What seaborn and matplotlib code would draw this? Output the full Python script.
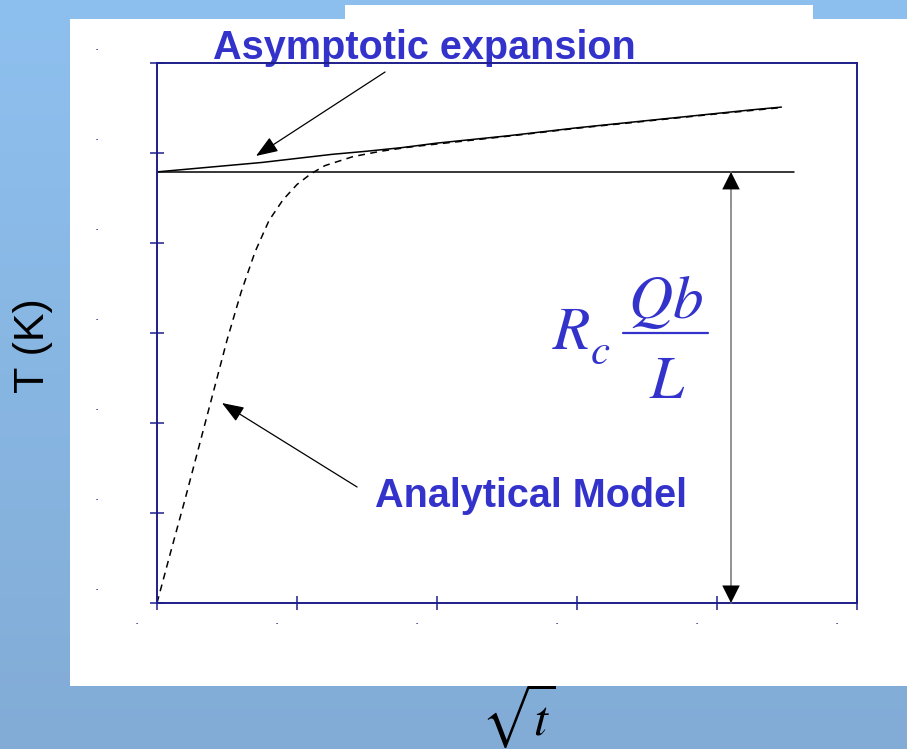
import numpy as np
import pandas as pd
import matplotlib
matplotlib.use("Agg")
import matplotlib.pyplot as plt
import seaborn as sns
from matplotlib.patches import Rectangle
from matplotlib.transforms import blended_transform_factory, ScaledTranslation

# --- data -------------------------------------------------------------
# asymptotic (long-time) expansion, T vs sqrt(t)
asym_x = [0.0, 0.25, 0.5, 0.75, 1.0, 1.25, 1.5, 1.75, 2.0, 2.25, 2.5,
          2.75, 3.0, 3.25, 3.5, 3.75, 4.0, 4.25, 4.46]
asym_y = [4.79, 4.825, 4.86, 4.895, 4.94, 4.985, 5.02, 5.06, 5.11, 5.15,
          5.19, 5.235, 5.28, 5.32, 5.36, 5.40, 5.44, 5.48, 5.51]

# full analytical model, T vs sqrt(t)
model_x = [0.0, 0.1, 0.2, 0.3, 0.4, 0.5, 0.6, 0.7, 0.8, 0.9, 1.0, 1.1,
           1.2, 1.4, 1.6, 1.8, 2.0, 2.5, 3.0, 3.5, 4.0, 4.46]
model_y = [0.0, 0.58, 1.15, 1.74, 2.33, 2.92, 3.45, 3.90, 4.25, 4.48,
           4.65, 4.77, 4.86, 4.96, 5.02, 5.065, 5.10, 5.185, 5.275,
           5.355, 5.435, 5.505]

# contact-resistance level R_c*Qb/L and its extent
plateau_y = 4.79
plateau_x_end = 4.55
bracket_x = 4.1

x_ticks = [0, 1, 2, 3, 4, 5]
y_ticks = [0, 1, 2, 3, 4, 5, 6]

# --- style ------------------------------------------------------------
sns.set_style("white")
plt.rcParams["font.family"] = ["Liberation Sans", "DejaVu Sans"]
plt.rcParams["mathtext.fontset"] = "stix"

NAVY = "#1e1e8c"
BLUE = "#3333cc"

W, H = 907, 749
fig = plt.figure(figsize=(W / 100, H / 100), dpi=100)

# slide background: soft blue gradient with white panels
bg = fig.add_axes([0, 0, 1, 1], zorder=-10)
grad = np.linspace(0, 1, 256)[:, None]
top = np.array([142, 192, 239]) / 255
bot = np.array([130, 172, 214]) / 255
img = top[None, None, :] * (1 - grad[..., None]) + bot[None, None, :] * grad[..., None]
bg.imshow(img, extent=[0, W, H, 0], aspect="auto")
bg.add_patch(Rectangle((70, 19), W - 70, 667, color="white", lw=0))
bg.add_patch(Rectangle((345, 5), 468, 15, color="white", lw=0))
bg.set_xlim(0, W)
bg.set_ylim(H, 0)
bg.axis("off")

# main plot area
ax = fig.add_axes([157 / W, (H - 603) / H, 700 / W, 540 / H], zorder=1)
ax.patch.set_alpha(0)

df_asym = pd.DataFrame({"sqrt_t": asym_x, "T": asym_y})
df_model = pd.DataFrame({"sqrt_t": model_x, "T": model_y})

sns.lineplot(data=df_asym, x="sqrt_t", y="T", ax=ax, color="black",
             lw=1.1, sort=False)
sns.lineplot(data=df_model, x="sqrt_t", y="T", ax=ax, color="black",
             lw=1.1, sort=False)
ax.lines[-1].set_dashes((4.5, 3.5))
ax.plot([0, plateau_x_end], [plateau_y, plateau_y], color="black", lw=1.1)

ax.set_xlim(0, 5)
ax.set_ylim(0, 6)
ax.set_xticks(x_ticks, labels=[""] * len(x_ticks))
ax.set_yticks(y_ticks, labels=[""] * len(y_ticks))
ax.set_xlabel("")
ax.set_ylabel("")
for s in ax.spines.values():
    s.set_color(NAVY)
    s.set_linewidth(1.4)
ax.tick_params(bottom=True, left=True, direction="inout", length=10,
               width=1.1, color=NAVY)

# tiny remnants of the tick labels
ty = blended_transform_factory(ax.transAxes, ax.transData)
for v in y_ticks:
    ax.text(-0.086, v, "-", transform=ty + ScaledTranslation(0, 0.13, fig.dpi_scale_trans),
            fontsize=5, fontweight="bold", color=NAVY, ha="center",
            va="center", clip_on=False)
tx = blended_transform_factory(ax.transData, ax.transAxes)
for v in x_ticks:
    ax.text(v, -0.038, "-", transform=tx + ScaledTranslation(-0.2, 0, fig.dpi_scale_trans),
            fontsize=5, fontweight="bold", color=NAVY, ha="center",
            va="center", clip_on=False)

# vertical bracket showing the contact-resistance jump
ax.annotate("", xy=(bracket_x, plateau_y), xytext=(bracket_x, 0),
            arrowprops=dict(arrowstyle="-", color="#808080", lw=1.2,
                            shrinkA=0, shrinkB=0))
for tip, base in [(plateau_y, plateau_y - 0.4), (0, 0.4)]:
    ax.annotate("", xy=(bracket_x, tip), xytext=(bracket_x, base),
                arrowprops=dict(arrowstyle="-|>,head_length=0.9,head_width=0.45",
                                mutation_scale=14, color="black", lw=0.01,
                                shrinkA=0, shrinkB=0))

# pointer arrows from the labels to the curves
arrow_kw = dict(arrowstyle="-|>,head_length=0.75,head_width=0.28",
                mutation_scale=18, color="black", lw=0.9, shrinkA=0, shrinkB=0)
ax.annotate("", xy=(0.707, 4.967), xytext=(1.629, 5.9),
            arrowprops=arrow_kw, annotation_clip=False)
ax.annotate("", xy=(0.464, 2.222), xytext=(1.429, 1.289),
            arrowprops=arrow_kw, annotation_clip=False)

# labels (placed in slide pixel coordinates)
bg.text(424, 59, "Asymptotic expansion", color=BLUE, fontsize=28.5,
        fontweight="bold", ha="center", va="baseline")
bg.text(375, 507, "Analytical Model", color=BLUE, fontsize=28.5,
        fontweight="bold", ha="left", va="baseline")
bg.text(33, 346, "T (K)", color="black", fontsize=31, rotation=90,
        ha="center", va="center")

# R_c Qb / L expression
fig.text(552 / W, 1 - 349 / H, r"$R$", color=BLUE, fontsize=44,
         ha="left", va="baseline")
fig.text(590 / W, 1 - 364 / H, r"$c$", color=BLUE, fontsize=31,
         ha="left", va="baseline")
fig.text(666 / W, 1 - 318 / H, r"$Qb$", color=BLUE, fontsize=44,
         ha="center", va="baseline")
fig.text(667 / W, 1 - 398 / H, r"$L$", color=BLUE, fontsize=44,
         ha="center", va="baseline")
bg.plot([623, 708], [333, 333], color=BLUE, lw=1.6)
bg.set_xlim(0, W)
bg.set_ylim(H, 0)

# x-axis label sqrt(t)
fig.text(518 / W, 1 - 716 / H, r"$\sqrt{t}$", color="black", fontsize=36,
         ha="center", va="center")

fig.savefig("out.png", dpi=100)
